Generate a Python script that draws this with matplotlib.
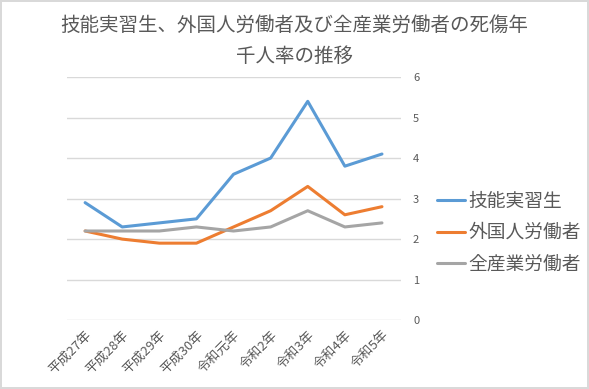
import matplotlib
matplotlib.use("Agg")
import matplotlib.pyplot as plt

plt.rcParams['font.family'] = ['Noto Sans CJK JP', 'DejaVu Sans']

# data
years = ['平成27年', '平成28年', '平成29年', '平成30年', '令和元年',
         '令和2年', '令和3年', '令和4年', '令和5年']
trainees = [2.9, 2.3, 2.4, 2.5, 3.6, 4.0, 5.4, 3.8, 4.1]
foreign_workers = [2.2, 2.0, 1.9, 1.9, 2.3, 2.7, 3.3, 2.6, 2.8]
all_industries = [2.2, 2.2, 2.2, 2.3, 2.2, 2.3, 2.7, 2.3, 2.4]
series_names = ['技能実習生', '外国人労働者', '全産業労働者']
colors = ['#5B9BD5', '#ED7D31', '#A5A5A5']

fig = plt.figure(figsize=(5.89, 3.89), dpi=100)
fig.patch.set_edgecolor('#D9D9D9')
fig.patch.set_linewidth(1.5)

ax = fig.add_axes([0.113, 0.177, 0.567, 0.625])

x = list(range(len(years)))
for vals, name, c in zip([trainees, foreign_workers, all_industries], series_names, colors):
    ax.plot(x, vals, color=c, linewidth=2.2, label=name, solid_capstyle='round')

ax.set_xlim(-0.5, len(years) - 0.5)
ax.set_ylim(0, 6)
ax.set_yticks(range(7))
ax.yaxis.tick_right()
ax.grid(axis='y', color='#D9D9D9', linewidth=1)
ax.set_axisbelow(True)
for s in ax.spines.values():
    s.set_visible(False)
ax.tick_params(axis='y', length=0, pad=9, labelsize=8, labelcolor='#595959')
ax.tick_params(axis='x', length=0, pad=6, labelsize=9.5, labelcolor='#595959')
ax.set_xticks(x)
ax.set_xticklabels(years, rotation=45, ha='right', va='top', rotation_mode='anchor')

# legend on the right
ax.legend(loc='center left', bbox_to_anchor=(1.06, 0.36), frameon=False,
          fontsize=13.5, handlelength=1.45, handletextpad=0.2, labelspacing=0.55,
          labelcolor='#595959')

fig.text(0.5, 0.936, '技能実習生、外国人労働者及び全産業労働者の死傷年',
         ha='center', va='center', fontsize=14, color='#595959')
fig.text(0.5, 0.855, '千人率の推移', ha='center', va='center',
         fontsize=14, color='#595959')

fig.savefig('out.png', dpi=100, edgecolor=fig.get_edgecolor())
